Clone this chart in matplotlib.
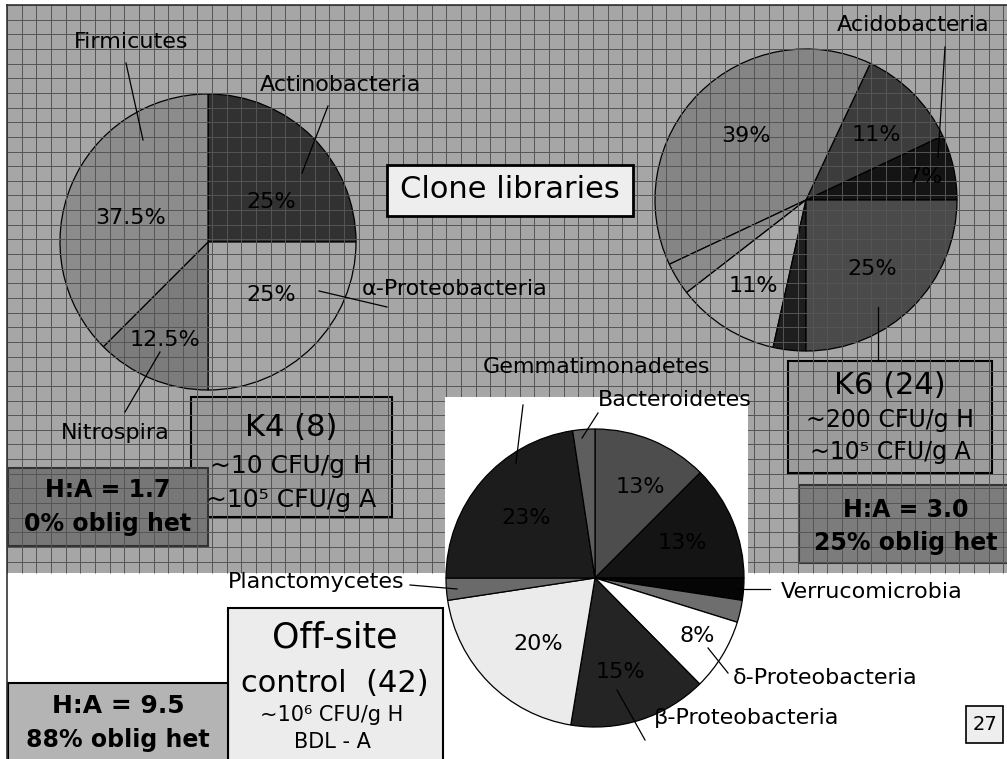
import numpy as np
import matplotlib
matplotlib.use("Agg")
import matplotlib.pyplot as plt
from matplotlib.patches import Rectangle

# ---------------- data ----------------
k4_names = ["Actinobacteria", "α-Proteobacteria", "Nitrospira", "Firmicutes"]
k4_values = [25, 25, 12.5, 37.5]
k4_pct = ["25%", "25%", "12.5%", "37.5%"]

k6_names = ["Acidobacteria", "", "", "", "", "", ""]
k6_values = [7, 11, 39, 3.5, 11, 3.5, 25]
k6_pct = ["7%", "11%", "39%", "", "11%", "", "25%"]

off_names = ["", "", "Verrucomicrobia", "", "δ-Proteobacteria", "β-Proteobacteria",
             "", "Planctomycetes", "Gemmatimonadetes", "Bacteroidetes"]
off_values = [12.5, 12.5, 2.4, 2.4, 7.8, 15, 20, 2.4, 22.6, 2.4]
off_pct = ["13%", "13%", "", "", "8%", "15%", "20%", "", "23%", ""]

# ---------------- styles ----------------
W, H = 1007, 759
FONT = "DejaVu Sans"
plt.rcParams["font.family"] = [FONT]
NAME_FS = 16
PCT_FS = 16


def Y(y):
    return H - y


fig = plt.figure(figsize=(W / 100, H / 100), dpi=100)
ax0 = fig.add_axes([0, 0, 1, 1])   # background, clone-library pies, translucent boxes
ax2 = fig.add_axes([0, 0, 1, 1])   # grid, white area, off-site pie, opaque boxes, text


def box(a, x0, y0, x1, y1, fc, lw=1.5, ec="black", z=2):
    a.add_patch(Rectangle((x0, Y(y1)), x1 - x0, y1 - y0, facecolor=fc,
                          edgecolor=ec, lw=lw, zorder=z))


def txt(x, y, s, fs, bold=False, ha="center"):
    ax2.text(x, Y(y), s, fontsize=fs, fontweight="bold" if bold else "normal",
             ha=ha, va="center", zorder=10)


def draw_pie(a, values, colors, start, ccw, center, radius):
    wedges, _ = a.pie(values, colors=colors, startangle=start, counterclock=ccw,
                      center=center, radius=radius, frame=True,
                      wedgeprops=dict(edgecolor="black", linewidth=0.9))
    return wedges


# background gray area
ax0.add_patch(Rectangle((7, Y(573)), W - 7, 573 - 5, facecolor="#a6a6a6",
                        edgecolor="none", zorder=0))

# ---------------- K4 pie ----------------
k4_colors = ["#313131", "#a6a6a6", "#7c7c7c", "#8c8c8c"]
draw_pie(ax0, k4_values, k4_colors, 90, False, (208, Y(242)), 148)
k4_pct_pos = [(271, 202), (271, 295), (165, 340), (131, 218)]
for s, (x, y) in zip(k4_pct, k4_pct_pos):
    txt(x, y, s, PCT_FS)

# ---------------- K6 pie ----------------
k6_colors = ["#141414", "#3c3c3c", "#858585", "#8c8c8c", "#a8a8a8", "#1e1e1e", "#4a4a4a"]
draw_pie(ax0, k6_values, k6_colors, 0, True, (806, Y(200)), 151)
k6_pct_pos = [(925, 177), (876, 135), (746, 136), None, (753, 286), None, (872, 269)]
for s, p in zip(k6_pct, k6_pct_pos):
    if p and s:
        txt(p[0], p[1], s, PCT_FS)

# translucent boxes (grid shows through)
box(ax0, 191, 397, 392, 517, "#999999", z=2)
box(ax0, 8, 468, 208, 546, "#777777", ec="#333333", z=3)
box(ax0, 788, 361, 992, 473, "#9c9c9c", z=2)
box(ax0, 799, 485, 1012, 563, "#7c7c7c", ec="#333333", z=3)

# ---------------- grid overlay (top layer, lowest zorder) ----------------
gx = np.arange(7, W, 14.65)
gy = np.arange(5, 573, 14.65)
ax2.vlines(gx, Y(573), Y(5), color="#555555", lw=0.7, zorder=0.5)
ax2.hlines(Y(gy), 7, W, color="#555555", lw=0.7, zorder=0.5)

ax2.plot([7, 7], [Y(5), Y(759)], color="#333333", lw=1.2, zorder=9)
ax2.plot([7, W], [Y(5), Y(5)], color="#333333", lw=1.2, zorder=9)

ax2.add_patch(Rectangle((445, Y(573)), 748 - 445, 573 - 397, facecolor="white",
                        edgecolor="none", zorder=1))
off_colors = ["#4d4d4d", "#141414", "#050505", "#6e6e6e", "#ffffff", "#242424",
              "#ebebeb", "#6a6a6a", "#1c1c1c", "#5e5e5e"]
wedges = draw_pie(ax2, off_values, off_colors, 90, False, (595, Y(578)), 149)
for w in wedges:
    w.set_zorder(2)
off_pct_pos = [(640, 487), (682, 543), None, None, (697, 636), (620, 672),
               (538, 644), None, (526, 518), None]
for s, p in zip(off_pct, off_pct_pos):
    if p and s:
        txt(p[0], p[1], s, PCT_FS)

# name labels with leader lines
name_items = [
    (k4_names[3], (131, 42), "center", [(126, 63), (143, 140)]),
    (k4_names[0], (341, 85), "center", [(328, 106), (302, 173)]),
    (k4_names[1], (362, 289), "left", [(319, 291), (387, 307)]),
    (k4_names[2], (115, 433), "center", [(125, 412), (160, 352)]),
    (k6_names[0], (913, 25), "center", [(945, 47), (938, 157)]),
    (off_names[8], (596, 367), "center", [(523, 405), (516, 463)]),
    (off_names[9], (675, 400), "center", [(598, 413), (582, 438)]),
    (off_names[7], (404, 582), "right", [(410, 585), (457, 589)]),
    (off_names[2], (781, 592), "left", [(738, 589), (770, 589)]),
    (off_names[4], (733, 678), "left", [(708, 648), (728, 673)]),
    (off_names[5], (654, 718), "left", [(617, 690), (645, 740)]),
]
for name, (x, y), ha, line in name_items:
    txt(x, y, name, NAME_FS, ha=ha)
    ax2.plot([line[0][0], line[1][0]], [Y(line[0][1]), Y(line[1][1])],
             color="black", lw=0.9, zorder=8)
ax2.plot([878, 878], [Y(307), Y(361)], color="black", lw=0.9, zorder=8)

# opaque boxes and box texts
box(ax2, 387, 165, 633, 216, "#eeeeee", lw=2, z=6)
txt(510, 190, "Clone libraries", 22)

txt(291, 428, "K4 (8)", 22)
txt(291, 466, "~10 CFU/g H", 18)
txt(291, 500, "~10⁵ CFU/g A", 18)

txt(108, 490, "H:A = 1.7", 17, True)
txt(108, 524, "0% oblig het", 17, True)

txt(890, 385, "K6 (24)", 22)
txt(890, 420, "~200 CFU/g H", 17)
txt(890, 452, "~10⁵ CFU/g A", 17)

txt(906, 510, "H:A = 3.0", 17, True)
txt(906, 543, "25% oblig het", 17, True)

box(ax2, 228, 608, 443, 765, "#ececec", z=6)
txt(335, 637, "Off-site", 25)
txt(335, 683, "control  (42)", 22)
txt(332, 715, "~10⁶ CFU/g H", 15)
txt(332, 742, "BDL - A", 15)

box(ax2, 8, 683, 228, 765, "#b4b4b4", z=6)
txt(118, 706, "H:A = 9.5", 18, True)
txt(118, 740, "88% oblig het", 17, True)

box(ax2, 966, 706, 1003, 743, "#eeeeee", lw=1.2, z=6)
txt(984.5, 725, "27", 14)

for a in (ax0, ax2):
    a.set_xlim(0, W)
    a.set_ylim(0, H)
    a.set_aspect("auto")
    a.axis("off")
fig.savefig("out.png", dpi=100, facecolor="white")
